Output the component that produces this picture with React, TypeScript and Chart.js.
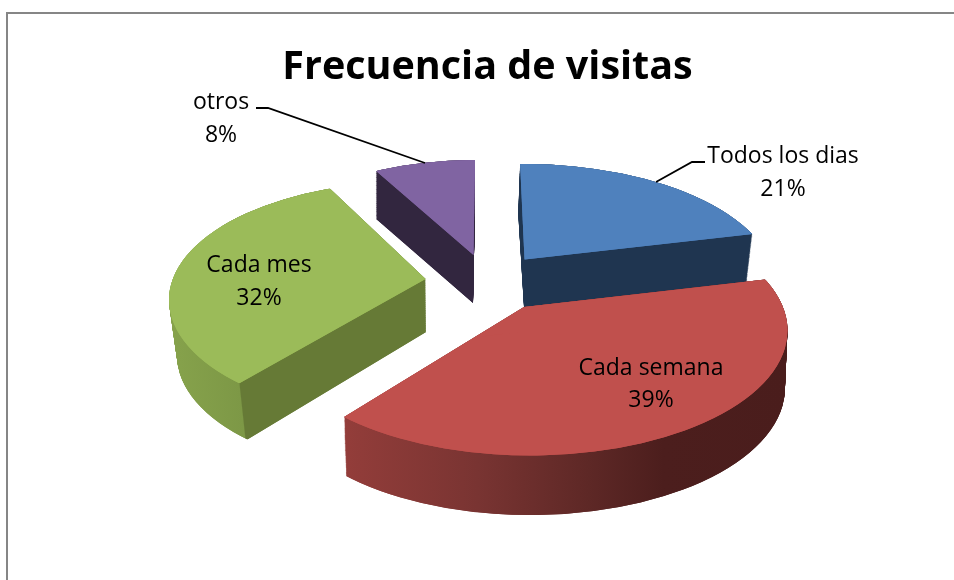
import React, { useEffect, useRef } from "react";
import { Chart, registerables } from "chart.js";

Chart.register(...registerables);

const categories = ["Todos los dias", "Cada semana", "Cada mes", "otros"];
const shares = [21, 39, 32, 8];
const topColors = ["#4f81bd", "#c0504d", "#9bbb59", "#8064a2"];
const chartTitle = "Frecuencia de visitas";

type Pt = [number, number];
type Ellipse = { cx: number; cy: number; rx: number; ry: number; apex: Pt };
type Stop = [number, string];

const DEG = Math.PI / 180;

// 3D view of each wedge: top and bottom ellipse, apex, perspective correction of the two
// edge angles (degrees), and the gradient of the side wall.
const wedgeLayout: {
  top: Ellipse;
  bottom: Ellipse;
  adjStart: number;
  adjEnd: number;
  grad: [number, number, number, number];
  stops: Stop[];
}[] = [
  {
    top: { cx: 525, cy: 289, rx: 253, ry: 125, apex: [524.5, 259.5] },
    bottom: { cx: 523, cy: 336, rx: 249, ry: 123, apex: [524, 307] },
    adjStart: -1.1,
    adjEnd: -11.7,
    grad: [500, 0, 760, 0],
    stops: [[0, "#1f3550"], [1, "#1f3550"]],
  },
  {
    top: { cx: 530, cy: 330.5, rx: 257.5, ry: 125, apex: [524, 307] },
    bottom: { cx: 530, cy: 388, rx: 255, ry: 127, apex: [524, 365] },
    adjStart: -9.65,
    adjEnd: 10.2,
    grad: [345, 0, 787, 0],
    stops: [[0, "#933d3a"], [0.3, "#793432"], [0.55, "#5e2826"], [0.72, "#4c1e1d"], [1, "#4a1d1c"]],
  },
  {
    top: { cx: 410, cy: 300, rx: 241, ry: 118, apex: [425.5, 279] },
    bottom: { cx: 418, cy: 355.5, rx: 241, ry: 119, apex: [426, 332] },
    adjStart: 9.1,
    adjEnd: 9.4,
    grad: [170, 390.5, 425, 363],
    stops: [[0, "#87a34c"], [0.27, "#7d9846"], [0.2745, "#667a36"], [1, "#667a36"]],
  },
  {
    top: { cx: 475, cy: 285, rx: 240, ry: 125, apex: [473.5, 255] },
    bottom: { cx: 475, cy: 332, rx: 240, ry: 124, apex: [473, 303] },
    adjStart: 4.5,
    adjEnd: 0,
    grad: [370, 0, 480, 0],
    stops: [[0, "#32263f"], [1, "#32263f"]],
  },
];
const drawOrder = [3, 0, 2, 1];
const labelLayout: { x: number; y1: number; y2: number }[] = [
  { x: 783, y1: 156, y2: 189 },
  { x: 651, y1: 368, y2: 400 },
  { x: 259, y1: 265, y2: 298 },
  { x: 221, y1: 102, y2: 135 },
];
const leaderLines: Pt[][] = [
  [[705, 162], [692, 162], [656, 182]],
  [[256, 108], [268, 108], [425, 163]],
];

function mix(p: Ellipse, q: Ellipse, t: number): Ellipse {
  const m = (a: number, b: number) => a + (b - a) * t;
  return {
    cx: m(p.cx, q.cx),
    cy: m(p.cy, q.cy),
    rx: m(p.rx, q.rx),
    ry: m(p.ry, q.ry),
    apex: [m(p.apex[0], q.apex[0]), m(p.apex[1], q.apex[1])],
  };
}

// Paint one chart.js arc element as a face of the wedge: its angles from the data fix the
// wedge's edges, and a full turn of the element scaled to the ellipse fills up to them.
function paintFace(
  ctx: CanvasRenderingContext2D,
  arc: any,
  e: Ellipse,
  adjStart: number,
  adjEnd: number,
  color: string
) {
  const a0 = arc.startAngle + adjStart * DEG;
  const a1 = arc.endAngle + adjEnd * DEG;
  const [ax, ay] = e.apex;
  const pa: Pt = [e.cx + e.rx * Math.cos(a0) - ax, e.cy + e.ry * Math.sin(a0) - ay];
  const pb: Pt = [e.cx + e.rx * Math.cos(a1) - ax, e.cy + e.ry * Math.sin(a1) - ay];
  const la = Math.hypot(pa[0], pa[1]);
  const lb = Math.hypot(pb[0], pb[1]);
  const far = 3000;
  const ua: Pt = [pa[0] / la, pa[1] / la];
  const ub: Pt = [pb[0] / lb, pb[1] / lb];
  const um: Pt = [ua[0] + ub[0], ua[1] + ub[1]];
  const lm = Math.hypot(um[0], um[1]);

  ctx.save();
  ctx.beginPath();
  ctx.moveTo(ax, ay);
  ctx.lineTo(ax + ua[0] * far, ay + ua[1] * far);
  ctx.lineTo(ax + (um[0] / lm) * far * 2, ay + (um[1] / lm) * far * 2);
  ctx.lineTo(ax + ub[0] * far, ay + ub[1] * far);
  ctx.closePath();
  ctx.clip();

  const R = arc.outerRadius;
  const sx = e.rx / R;
  const sy = e.ry / R;
  ctx.setTransform(sx, 0, 0, sy, e.cx - arc.x * sx, e.cy - arc.y * sy);

  const saved = {
    options: arc.options,
    startAngle: arc.startAngle,
    endAngle: arc.endAngle,
    circumference: arc.circumference,
  };
  arc.options = { ...saved.options, backgroundColor: color, borderWidth: 0, offset: 0, spacing: 0 };
  // Two sweeps from opposite starts, so that neither leaves its seam visible.
  for (const turn of [0, Math.PI]) {
    arc.startAngle = saved.startAngle + turn;
    arc.endAngle = arc.startAngle + Math.PI * 2 - 0.002;
    arc.circumference = arc.endAngle - arc.startAngle;
    arc.draw(ctx);
  }
  arc.options = saved.options;
  arc.startAngle = saved.startAngle;
  arc.endAngle = saved.endAngle;
  arc.circumference = saved.circumference;
  ctx.restore();
}

const pie3d = {
  id: "pie3d",
  beforeDraw(chart: any) {
    const { ctx, width, height } = chart;
    ctx.save();
    ctx.fillStyle = "#ffffff";
    ctx.fillRect(0, 0, width, height);
    ctx.strokeStyle = "#868686";
    ctx.lineWidth = 2;
    ctx.beginPath();
    ctx.moveTo(7, height);
    ctx.lineTo(7, 13);
    ctx.lineTo(width, 13);
    ctx.stroke();
    ctx.restore();
  },
  beforeDatasetsDraw(chart: any) {
    const { ctx, width, height } = chart;
    const arcs = chart.getDatasetMeta(0).data;
    for (const i of drawOrder) {
      const arc = arcs[i];
      const w = wedgeLayout[i];
      const off = document.createElement("canvas");
      off.width = width;
      off.height = height;
      const o = off.getContext("2d") as CanvasRenderingContext2D;
      const steps = 60;
      for (let s = steps; s >= 0; s--) {
        paintFace(o, arc, mix(w.top, w.bottom, s / steps), w.adjStart, w.adjEnd, "#000");
      }
      o.globalCompositeOperation = "source-in";
      const g = o.createLinearGradient(w.grad[0], w.grad[1], w.grad[2], w.grad[3]);
      w.stops.forEach(([p, col]) => g.addColorStop(p, col));
      o.fillStyle = g;
      o.fillRect(0, 0, width, height);
      ctx.drawImage(off, 0, 0);
      paintFace(ctx, arc, w.top, w.adjStart, w.adjEnd, topColors[i]);
    }
    return false;
  },
  afterDraw(chart: any) {
    const { ctx } = chart;
    ctx.save();
    ctx.strokeStyle = "#000";
    ctx.lineWidth = 1.8;
    for (const line of leaderLines) {
      ctx.beginPath();
      line.forEach(([x, y], k) => (k ? ctx.lineTo(x, y) : ctx.moveTo(x, y)));
      ctx.stroke();
    }
    ctx.fillStyle = "#000";
    ctx.font = "23px 'Open Sans'";
    ctx.textAlign = "center";
    ctx.textBaseline = "middle";
    categories.forEach((name, i) => {
      const l = labelLayout[i];
      ctx.fillText(name, l.x, l.y1);
      ctx.fillText(shares[i] + "%", l.x, l.y2);
    });
    ctx.restore();
  },
};

export default function App() {
  const ref = useRef<HTMLCanvasElement>(null);
  useEffect(() => {
    const chart = new Chart(ref.current as HTMLCanvasElement, {
      type: "pie",
      data: {
        labels: categories,
        datasets: [{ data: shares, backgroundColor: topColors, borderWidth: 0 }],
      },
      plugins: [pie3d as any],
      options: {
        responsive: false,
        animation: false,
        layout: { padding: { left: 21 } },
        plugins: {
          legend: { display: false },
          tooltip: { enabled: false },
          title: {
            display: true,
            text: chartTitle,
            color: "#000",
            font: { family: "'Open Sans'", size: 39.5, weight: "bold" },
            padding: { top: 44, bottom: 10 },
          },
        },
      },
    });
    return () => chart.destroy();
  }, []);
  return (
    <canvas
      ref={ref}
      width={954}
      height={580}
      style={{ position: "absolute", left: 0, top: 0, display: "block" }}
    />
  );
}
